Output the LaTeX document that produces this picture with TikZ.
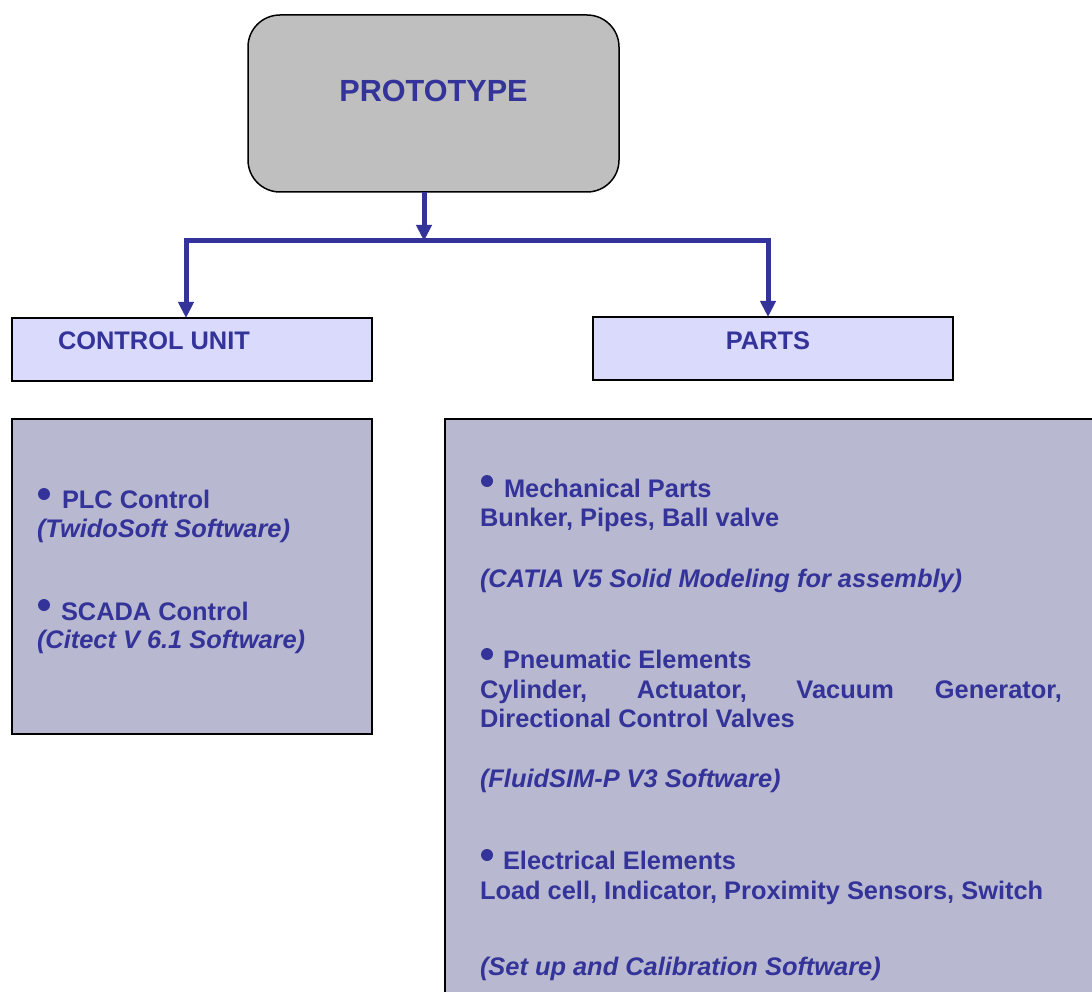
\documentclass[tikz,border=0pt]{standalone}
\usepackage{fontspec}
\setmainfont{Liberation Sans}
\usetikzlibrary{arrows.meta}
\definecolor{txtblue}{RGB}{51,51,153}
\definecolor{protogray}{RGB}{191,191,191}
\definecolor{lightlav}{RGB}{218,218,252}
\definecolor{darklav}{RGB}{184,184,208}
\tikzset{
  every node/.style={inner sep=0pt, outer sep=0pt},
  txt/.style={anchor=base west, text=txtblue, font=\fontsize{25.4}{30}\selectfont\bfseries},
  itxt/.style={txt, font=\fontsize{25.4}{30}\selectfont\bfseries\itshape},
  bul/.style={circle, fill=txtblue, minimum size=12pt},
  arr/.style={draw=txtblue, line width=5pt, -{Triangle[width=15pt,length=16pt]}},
  link/.style={draw=txtblue, line width=5pt},
  headbox/.style={draw=black, line width=1.5pt, fill=lightlav},
  contbox/.style={draw=black, line width=2pt, fill=darklav},
}
\begin{document}
\begin{tikzpicture}[x=1pt,y=-1pt]
\useasboundingbox (0,0) rectangle (1092,992);
\clip (0,0) rectangle (1092,992);
% prototype
\node[draw=black, line width=1.5pt, fill=protogray, rounded corners=32pt,
      minimum width=371pt, minimum height=177pt] (proto) at (433.5,103.5) {};
\node[anchor=base, text=txtblue, font=\fontsize{30.6}{36}\selectfont\bfseries] (protot) at (433.5,102) {PROTOTYPE};
% head boxes
\node[headbox, minimum width=360pt, minimum height=63pt] (cu) at (192,349.5) {};
\node[txt] (cut) at (58,349) {CONTROL UNIT};
\node[headbox, minimum width=360pt, minimum height=63pt] (parts) at (773,348.5) {};
\node[txt, anchor=base] (partst) at (768,349) {PARTS};
% content boxes
\node[contbox, minimum width=360pt, minimum height=315pt] (cbox) at (192,576.5) {};
\node[contbox, minimum width=680pt, minimum height=600pt] (pbox) at (785,719) {};
% connectors
\coordinate (mid) at (424,241);
\coordinate (jl) at (186,241);
\coordinate (jr) at (768,241);
\draw[arr] (proto.south -| mid) -- (mid);
\draw[link, line cap=rect] (jl) -- (jr);
\draw[arr] (jl) -- (cu.north -| jl);
\draw[arr] (jr) -- (parts.north -| jr);
% left content
\node[bul] (b1) at (44,494) {};
\node[txt] (plc) at (62,508) {PLC Control};
\node[itxt] (twido) at (37,537) {(TwidoSoft Software)};
\node[bul] (b2) at (44,605) {};
\node[txt] (scada) at (61,620) {SCADA Control};
\node[itxt] (citect) at (37,648) {(Citect V 6.1 Software)};
% right content
\node[bul] (b3) at (487,481) {};
\node[txt] (mech) at (504,497) {Mechanical Parts};
\node[txt] (bunker) at (480,526) {Bunker, Pipes, Ball valve};
\node[itxt] (catia) at (480,587) {(CATIA V5 Solid Modeling for assembly)};
\node[bul] (b4) at (487,654) {};
\node[txt] (pneu) at (503,668) {Pneumatic Elements};
\node[txt] (cyl) at (480,698) {\makebox[582pt][s]{Cylinder, Actuator, Vacuum Generator,}};
\node[txt] (dir) at (480,727) {Directional Control Valves};
\node[itxt] (fluid) at (480,787) {(FluidSIM-P V3 Software)};
\node[bul] (b5) at (487,855) {};
\node[txt] (elec) at (503,869) {Electrical Elements};
\node[txt] (load) at (480,899) {Load cell, Indicator, Proximity Sensors, Switch};
\node[itxt] (setup) at (480,975) {(Set up and Calibration Software)};
\end{tikzpicture}
\end{document}
